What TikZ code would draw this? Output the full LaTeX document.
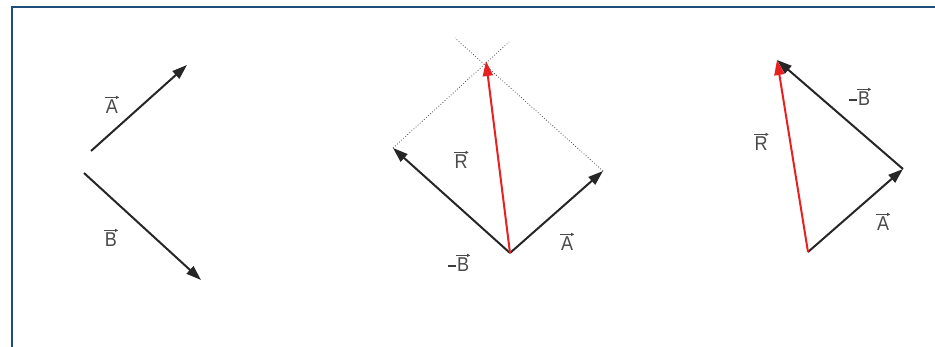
\documentclass[tikz,border=0pt]{standalone}
\usepackage{fontspec}
\setmainfont{Liberation Sans}
\usetikzlibrary{arrows.meta}
\definecolor{frame}{HTML}{1F4E79}
\definecolor{lab}{HTML}{4A4A4A}
\definecolor{vred}{HTML}{E82020}
\begin{document}
\begin{tikzpicture}[x=1pt,y=-1pt,
  vec/.style={line width=2pt,draw=black!85,-{Triangle[length=15pt,width=10pt]}},
  rvec/.style={line width=2pt,draw=vred,-{Triangle[length=15pt,width=10pt]}},
  guide/.style={draw=black!70,line width=0.8pt,dotted},
  lbl/.style={text=lab,inner sep=0pt,anchor=center},
  lblarr/.style={draw=lab,line width=1pt,-{Triangle[length=3pt,width=3pt]}},
  minus/.style={draw=lab!80!black,line width=2.4pt}]
\useasboundingbox (0,0) rectangle (935,347);
% frame
\coordinate (f1) at (11.5,347);
\coordinate (f2) at (11.5,7.5);
\coordinate (f3) at (935,7.5);
\draw[frame,line width=2pt] (f1) -- (f2) -- (f3);
% label helper: letter node plus overhead arrow
\def\vl#1#2#3{%
  \node[lbl] (#1) at (#2) {\fontsize{20}{21}\selectfont\scalebox{0.9}[1]{#3}};
  \draw[lblarr] ([xshift=-0.5pt,yshift=2.5pt]#1.north west) -- ([xshift=1pt,yshift=2.5pt]#1.north east);}
% left figure
\coordinate (a0) at (91,151);
\coordinate (a1) at (187,65);
\coordinate (b0) at (84,173);
\coordinate (b1) at (201,280);
\draw[vec] (a0) -- (a1);
\draw[vec] (b0) -- (b1);
\vl{la}{112,107}{A}
\vl{lb}{111,240}{B}
% middle figure
\coordinate (o) at (510,253);
\coordinate (ma) at (603,171);
\coordinate (mb) at (393,148);
\coordinate (mr) at (486,61);
\coordinate (g1) at (509,42);
\coordinate (g2) at (455,38);
\draw[guide] (mb) -- (g1);
\draw[guide] (ma) -- (g2);
\draw[vec] (o) -- (ma);
\draw[vec] (o) -- (mb);
\draw[rvec] (o) -- (mr);
\vl{mlr}{461,162}{R}
\vl{mla}{567,244}{A}
\vl{mlb}{463,265}{B}
\coordinate (m1) at (448,266);
\coordinate (m2) at (456,266);
\draw[minus] (m1) -- (m2);
% right figure
\coordinate (p) at (808,252);
\coordinate (q) at (903,169);
\coordinate (s) at (777,60);
\draw[vec] (p) -- (q);
\draw[vec] (q) -- (s);
\draw[rvec] (p) -- (s);
\vl{rlb}{864,99}{B}
\coordinate (n1) at (849,100);
\coordinate (n2) at (857,100);
\draw[minus] (n1) -- (n2);
\vl{rlr}{761,144}{R}
\vl{rla}{883,224}{A}
\end{tikzpicture}
\end{document}
